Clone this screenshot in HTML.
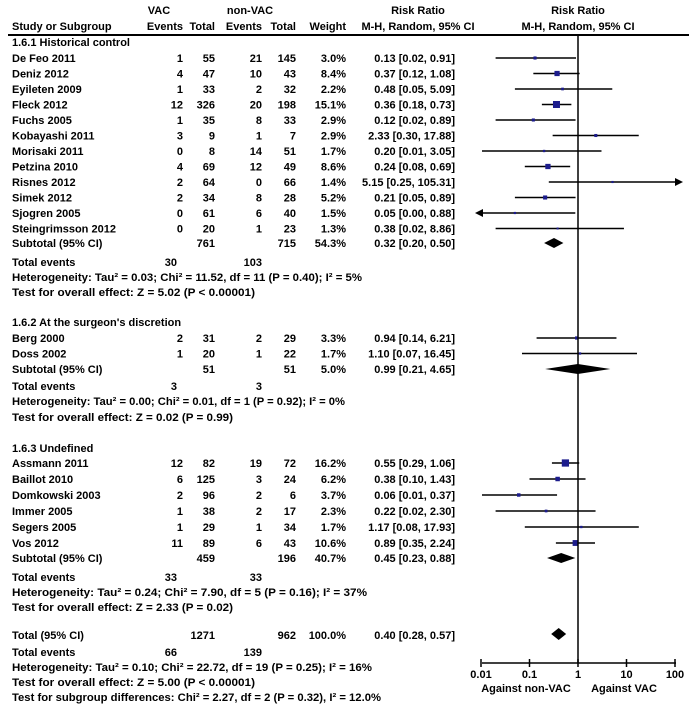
<!DOCTYPE html>
<html><head><meta charset="utf-8"><style>
html,body{margin:0;padding:0;background:#fff;}
svg{display:block;font-family:"Liberation Sans",Arial,sans-serif;font-weight:bold;}
</style></head><body>
<svg id="plot" width="689" height="706" viewBox="0 0 689 706">
<g font-size="11">
<text x="159" y="14" text-anchor="middle">VAC</text>
<text x="250" y="14" text-anchor="middle">non-VAC</text>
<text x="418" y="14" text-anchor="middle">Risk Ratio</text>
<text x="578" y="14" text-anchor="middle">Risk Ratio</text>
<text x="12" y="30">Study or Subgroup</text>
<text x="183" y="30" text-anchor="end">Events</text>
<text x="215" y="30" text-anchor="end">Total</text>
<text x="262" y="30" text-anchor="end">Events</text>
<text x="296" y="30" text-anchor="end">Total</text>
<text x="346" y="30" text-anchor="end">Weight</text>
<text x="418" y="30" text-anchor="middle">M-H, Random, 95% CI</text>
<text x="578" y="30" text-anchor="middle">M-H, Random, 95% CI</text>
</g>
<line x1="8" y1="35" x2="689" y2="35" stroke="#000" stroke-width="2"/>
<g id="rows" font-size="11"></g>
<g id="marks"></g>
</svg>
<script>
const studies = ["De Feo 2011","Deniz 2012","Eyileten 2009","Fleck 2012","Fuchs 2005","Kobayashi 2011","Morisaki 2011","Petzina 2010","Risnes 2012","Simek 2012","Sjogren 2005","Steingrimsson 2012","Berg 2000","Doss 2002","Assmann 2011","Baillot 2010","Domkowski 2003","Immer 2005","Segers 2005","Vos 2012"];
const groupOf = [0,0,0,0,0,0,0,0,0,0,0,0,1,1,2,2,2,2,2,2];
const vacEvents = [1,4,1,12,1,3,0,4,2,2,0,0,2,1,12,6,2,1,1,11];
const vacTotal = [55,47,33,326,35,9,8,69,64,34,61,20,31,20,82,125,96,38,29,89];
const nonEvents = [21,10,2,20,8,1,14,12,0,8,6,1,2,1,19,3,2,2,1,6];
const nonTotal = [145,43,32,198,33,7,51,49,66,28,40,23,29,22,72,24,6,17,34,43];
const weights = [3.0,8.4,2.2,15.1,2.9,2.9,1.7,8.6,1.4,5.2,1.5,1.3,3.3,1.7,16.2,6.2,3.7,2.3,1.7,10.6];
const rr = [0.13,0.37,0.48,0.36,0.12,2.33,0.20,0.24,5.15,0.21,0.05,0.38,0.94,1.10,0.55,0.38,0.06,0.22,1.17,0.89];
const lo = [0.02,0.12,0.05,0.18,0.02,0.30,0.01,0.08,0.25,0.05,0.00,0.02,0.14,0.07,0.29,0.10,0.01,0.02,0.08,0.35];
const hi = [0.91,1.08,5.09,0.73,0.89,17.88,3.05,0.69,105.31,0.89,0.88,8.86,6.21,16.45,1.06,1.43,0.37,2.30,17.93,2.24];
const groupNames = ["1.6.1 Historical control","1.6.2 At the surgeon's discretion","1.6.3 Undefined"];
const subVacTotal = [761,51,459];
const subNonTotal = [715,51,196];
const subWeight = ["54.3%","5.0%","40.7%"];
const subRR = [0.32,0.99,0.45];
const subLo = [0.20,0.21,0.23];
const subHi = [0.50,4.65,0.88];
const subVacEvents = [30,3,33];
const subNonEvents = [103,3,33];
const subHet = ["Heterogeneity: Tau² = 0.03; Chi² = 11.52, df = 11 (P = 0.40); I² = 5%","Heterogeneity: Tau² = 0.00; Chi² = 0.01, df = 1 (P = 0.92); I² = 0%","Heterogeneity: Tau² = 0.24; Chi² = 7.90, df = 5 (P = 0.16); I² = 37%"];
const subTest = ["Test for overall effect: Z = 5.02 (P < 0.00001)","Test for overall effect: Z = 0.02 (P = 0.99)","Test for overall effect: Z = 2.33 (P = 0.02)"];
const totalRR = [0.40,0.28,0.57];
const tickVals = [0.01,0.1,1,10,100];
const tickLabels = ["0.01","0.1","1","10","100"];

const NS="http://www.w3.org/2000/svg";
const rowsG=document.getElementById('rows'), marksG=document.getElementById('marks');
const X0=578, DEC=48.5, XMIN=482, XMAX=676, AXY=663;
function xs(v){ if(v<=0) return XMIN-20; return X0+DEC*Math.log10(v); }
function el(tag,attrs,parent,txt){const e=document.createElementNS(NS,tag);for(const k in attrs)e.setAttribute(k,attrs[k]);if(txt!==undefined)e.textContent=txt;parent.appendChild(e);return e;}
function txt(x,y,s,anchor,name,len){const t=el('text',{x:x,y:y+4,'text-anchor':anchor||'start'},rowsG,s);


if(len){t.setAttribute('textLength',len);t.setAttribute('lengthAdjust','spacingAndGlyphs');}return t;}
function ci(v){return v.toFixed(2);}
function diamond(y,r,l,h,hh,name){const p=el('polygon',{points:`${xs(l)},${y} ${xs(r)},${y-hh} ${xs(h)},${y} ${xs(r)},${y+hh}`,fill:'#000'},marksG);

}

const groupLayout=[
 {h:42,rows:[58,73.5,89,104.5,120,135.5,151,166.5,182,197.5,213,228.5],sub:243,te:262,het:277,test:292},
 {h:322,rows:[338,353.5],sub:369,te:386,het:401,test:417},
 {h:448,rows:[463,479,495,511,527,543],sub:558,te:577,het:592,test:607}];
const hetLen=[350,333,355];
const testLen=[243,221,221];
for(let g=0;g<3;g++){
 const L=groupLayout[g];
 txt(12,L.h,groupNames[g],'start','subgroup-title');
 let k=0;
 for(let i=0;i<studies.length;i++){ if(groupOf[i]!==g) continue;
  const y=L.rows[k++];
  txt(12,y,studies[i],'start','study-name');
  txt(183,y,String(vacEvents[i]),'end','vac-events');
  txt(215,y,String(vacTotal[i]),'end','vac-total');
  txt(262,y,String(nonEvents[i]),'end','nonvac-events');
  txt(296,y,String(nonTotal[i]),'end','nonvac-total');
  txt(346,y,weights[i].toFixed(1)+'%','end','weight');
  txt(455,y,`${ci(rr[i])} [${ci(lo[i])}, ${ci(hi[i])}]`,'end','risk-ratio-ci');
  const x1=Math.max(xs(lo[i]),XMIN), x2=Math.min(xs(hi[i]),XMAX);
  const ln=el('line',{x1:x1,y1:y,x2:x2,y2:y,stroke:'#000','stroke-width':1.5},marksG);
  
  
  if(hi[i]>105){const a=el('polygon',{points:`${XMAX+7},${y} ${XMAX-1},${y-4} ${XMAX-1},${y+4}`,fill:'#000'},marksG);
   
   }
  if(lo[i]<0.0095){const a=el('polygon',{points:`${XMIN-7},${y} ${XMIN+1},${y-4} ${XMIN+1},${y+4}`,fill:'#000'},marksG);
   
   }
  const s=1.8*Math.sqrt(weights[i]);
  const r=el('rect',{x:xs(rr[i])-s/2,y:y-s/2,width:s,height:s,fill:'#1c1c8c'},marksG);
  
  
 }
 txt(12,L.sub,'Subtotal (95% CI)','start','subtotal-label');
 txt(215,L.sub,String(subVacTotal[g]),'end','subtotal-vac-total');
 txt(296,L.sub,String(subNonTotal[g]),'end','subtotal-nonvac-total');
 txt(346,L.sub,subWeight[g],'end','subtotal-weight');
 txt(455,L.sub,`${ci(subRR[g])} [${ci(subLo[g])}, ${ci(subHi[g])}]`,'end','subtotal-ci');
 diamond(L.sub,subRR[g],subLo[g],subHi[g],5,'subtotal-diamond');
 txt(12,L.te,'Total events','start','total-events-label');
 txt(177,L.te,String(subVacEvents[g]),'end','total-vac-events');
 txt(262,L.te,String(subNonEvents[g]),'end','total-nonvac-events');
 txt(12,L.het,subHet[g],'start','heterogeneity',hetLen[g]);
 txt(12,L.test,subTest[g],'start','overall-effect',testLen[g]);
}
txt(12,635,'Total (95% CI)','start','total-label');
txt(215,635,'1271','end','total-vac');
txt(296,635,'962','end','total-nonvac');
txt(346,635,'100.0%','end','total-weight');
txt(455,635,`${ci(totalRR[0])} [${ci(totalRR[1])}, ${ci(totalRR[2])}]`,'end','total-ci');
diamond(634,totalRR[0],totalRR[1],totalRR[2],6,'total-diamond');
txt(12,652,'Total events','start','overall-events-label');
txt(177,652,'66','end','overall-vac-events');
txt(262,652,'139','end','overall-nonvac-events');
txt(12,667,'Heterogeneity: Tau² = 0.10; Chi² = 22.72, df = 19 (P = 0.25); I² = 16%','start','overall-heterogeneity',360);
txt(12,682,'Test for overall effect: Z = 5.00 (P < 0.00001)','start','overall-test',243);
txt(12,697,'Test for subgroup differences: Chi² = 2.27, df = 2 (P = 0.32), I² = 12.0%','start','subgroup-differences',369);

const vl=el('line',{x1:X0,y1:35,x2:X0,y2:AXY,stroke:'#000','stroke-width':1.5},marksG);


const ax=el('line',{x1:XMIN,y1:AXY,x2:XMAX,y2:AXY,stroke:'#000','stroke-width':1.5},marksG);


for(let t=0;t<tickVals.length;t++){
 const x=xs(tickVals[t]);
 const tk=el('line',{x1:x,y1:AXY-4,x2:x,y2:AXY+4,stroke:'#000','stroke-width':1.5},marksG);
 
 
 const lb=el('text',{x:x,y:AXY+15,'text-anchor':'middle','font-size':11},marksG,tickLabels[t]);
 
 
}
const a1=el('text',{x:526,y:692,'text-anchor':'middle','font-size':11},marksG,'Against non-VAC');


const a2=el('text',{x:624,y:692,'text-anchor':'middle','font-size':11},marksG,'Against VAC');


</script>
</body></html>
